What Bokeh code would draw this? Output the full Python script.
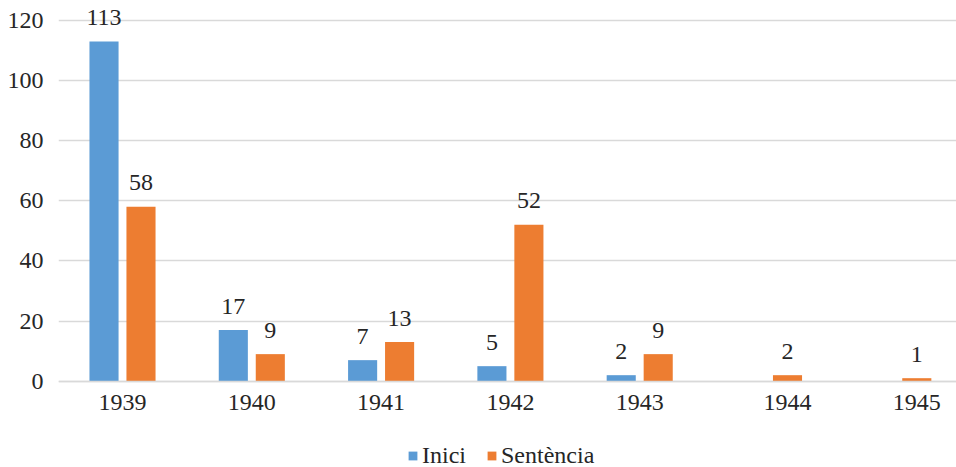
from bokeh.plotting import figure
from bokeh.models import ColumnDataSource, Range1d, FixedTicker, Legend, LegendItem
from bokeh.core.properties import value
from bokeh.embed import file_html
from bokeh.resources import INLINE

years = ["1939", "1940", "1941", "1942", "1943", "1944", "1945"]
inici = [113, 17, 7, 5, 2, None, None]
sentencia = [58, 9, 13, 52, 9, 2, 1]
y_ticks = [0, 20, 40, 60, 80, 100, 120]

BLUE = "#5B9BD5"
ORANGE = "#ED7D31"
FONT = "'Liberation Serif', 'DejaVu Serif', serif"
TXT = "#262626"
FS = "24px"

idx = list(range(len(years)))
off = 0.143
bw = 0.225

p = figure(width=956, height=467, output_backend="svg", toolbar_location=None,
           x_range=Range1d(-0.495, 6.45), y_range=Range1d(-28.7, 126.6),
           min_border_left=58, min_border_right=0, min_border_top=0, min_border_bottom=0)
p.outline_line_color = None

def src(vals, dx):
    xs, ys, ls = [], [], []
    for i, v in zip(idx, vals):
        if v is None:
            continue
        xs.append(i + dx); ys.append(v); ls.append(str(v))
    return ColumnDataSource(dict(x=xs, y=ys, label=ls))

s1 = src(inici, -off)
s2 = src(sentencia, off)

r1 = p.vbar(x="x", top="y", bottom=0, width=bw, source=s1, fill_color=BLUE, line_color=None)
r2 = p.vbar(x="x", top="y", bottom=0, width=bw, source=s2, fill_color=ORANGE, line_color=None)

for s in (s1, s2):
    p.text(x="x", y="y", text="label", source=s, text_align="center", text_baseline="alphabetic",
           y_offset=-24, text_font=value(FONT), text_font_size=FS, text_color=TXT)

# category label positions (the last two sit over the single remaining bar)
tick_pos = [i if inici[i] is not None else i + off for i in idx]
p.xaxis.ticker = FixedTicker(ticks=tick_pos)
p.xaxis.major_label_overrides = {t: y for t, y in zip(tick_pos, years)}
p.xaxis.fixed_location = 0
p.yaxis.ticker = FixedTicker(ticks=y_ticks)
for ax in (p.xaxis, p.yaxis):
    ax.major_tick_line_color = None
    ax.minor_tick_line_color = None
    ax.major_label_text_font = FONT
    ax.major_label_text_font_size = FS
    ax.major_label_text_color = TXT
p.yaxis.axis_line_color = None
p.yaxis.major_tick_out = 0
p.yaxis.major_tick_in = 0
p.yaxis.major_label_standoff = 15
p.xaxis.axis_line_color = "#D9D9D9"
p.xaxis.axis_line_width = 1.5
p.xaxis.major_label_standoff = 8
p.xgrid.grid_line_color = None
p.ygrid.grid_line_color = "#D9D9D9"
p.ygrid.grid_line_width = 1.5
p.ygrid.ticker = FixedTicker(ticks=y_ticks)

legend = Legend(items=[LegendItem(label="Inici", renderers=[r1]),
                       LegendItem(label="Sentència", renderers=[r2])],
                orientation="horizontal", location=(349, -2),
                glyph_width=11, glyph_height=11, label_standoff=4, spacing=20,
                label_text_font=FONT, label_text_font_size=FS, label_text_color=TXT,
                background_fill_alpha=0, border_line_color=None, padding=0, margin=0)
p.add_layout(legend, "center")

open("out.html", "w").write(file_html(p, INLINE))
